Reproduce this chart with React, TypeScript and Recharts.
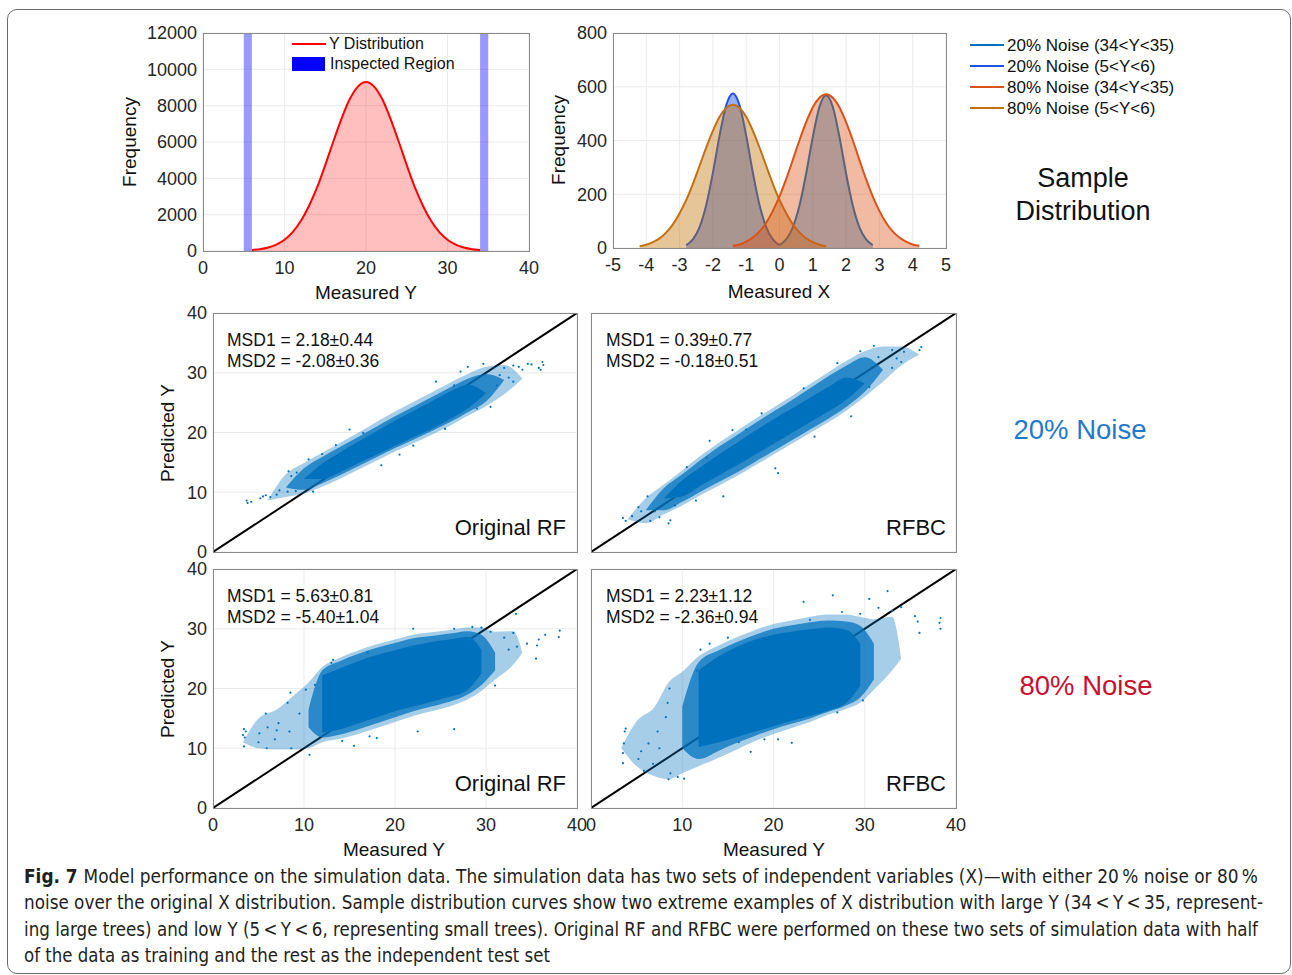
import React from 'react';
import {
  ComposedChart,
  Area,
  Line,
  Scatter,
  XAxis,
  YAxis,
  CartesianGrid,
  ReferenceArea,
} from 'recharts';

const FONT = '"Liberation Sans", Arial, Helvetica, sans-serif';
const INK = '#262626';
const BLUE = '#0072BD';

// --- top left: distribution of Y ---
const yDistX = [6, 7, 8, 9, 10, 11, 12, 13, 14, 15, 16, 17, 18, 19, 20, 21, 22, 23, 24, 25, 26, 27, 28, 29, 30, 31, 32, 33, 34];
const yDistFreq = [60, 100, 190, 350, 620, 1040, 1650, 2480, 3500, 4730, 6040, 7290, 8350, 9050, 9300, 9050, 8350, 7290, 6040, 4730, 3500, 2480, 1650, 1040, 620, 350, 190, 100, 60];
const inspected = [
  [5, 6],
  [34, 35],
];

// --- top right: sample X distributions ---
const xGrid = [-4.2, -4.0, -3.8, -3.6, -3.4, -3.2, -3.0, -2.8, -2.6, -2.4, -2.2, -2.0, -1.8, -1.6, -1.4, -1.2, -1.0, -0.8, -0.6, -0.4, -0.2, 0.0, 0.2, 0.4, 0.6, 0.8, 1.0, 1.2, 1.4, 1.6, 1.8, 2.0, 2.2, 2.4, 2.6, 2.8, 3.0, 3.2, 3.4, 3.6, 3.8, 4.0, 4.2];
const n = null;
const noise20High = [n, n, n, n, n, n, n, n, n, n, n, n, n, n, n, n, n, n, n, n, n, 11, 32, 77, 158, 277, 413, 525, 568, 525, 413, 277, 158, 77, 32, 11, n, n, n, n, n, n, n];
const noise20Low = [n, n, n, n, n, n, n, 11, 32, 78, 160, 280, 418, 531, 575, 531, 418, 280, 160, 78, 32, 11, n, n, n, n, n, n, n, n, n, n, n, n, n, n, n, n, n, n, n, n, n];
const noise80High = [n, n, n, n, n, n, n, n, n, n, n, n, n, n, 8, 13, 24, 39, 62, 94, 138, 192, 256, 328, 401, 468, 524, 559, 572, 559, 524, 468, 401, 328, 256, 192, 138, 94, 62, 39, 24, 13, 8];
const noise80Low = [7, 12, 22, 36, 58, 88, 129, 179, 239, 306, 374, 436, 488, 521, 533, 521, 488, 436, 374, 306, 239, 179, 129, 88, 58, 36, 22, 12, 7, n, n, n, n, n, n, n, n, n, n, n, n, n, n];

const rf20X = [6, 8, 10, 12, 14, 16, 18, 20, 22, 24, 26, 28, 30, 32, 34];
const rf20HaloLo = [8.6, 9.2, 9.8, 10.9, 12.3, 13.8, 15.3, 16.8, 18.2, 19.6, 21.1, 22.8, 24.4, 26.4, 29.0];
const rf20HaloHi = [8.6, 13.0, 14.9, 16.6, 18.3, 20.0, 21.8, 23.5, 25.1, 26.7, 28.3, 29.8, 31.0, 31.3, 29.0];
const rf20BodyLo = [n, 10.8, 10.4, 11.5, 12.9, 14.4, 15.9, 17.4, 18.8, 20.2, 21.7, 23.4, 25.2, 28.8, n];
const rf20BodyHi = [n, 10.8, 14.0, 15.9, 17.6, 19.3, 21.0, 22.7, 24.3, 25.9, 27.5, 29.0, 29.8, 28.8, n];
const rf20CoreLo = [n, n, 12.2, 12.2, 13.4, 14.9, 16.3, 17.8, 19.2, 20.6, 22.2, 24.0, 26.6, n, n];
const rf20CoreHi = [n, n, 12.2, 14.8, 16.7, 18.5, 20.2, 22.0, 23.6, 25.2, 26.8, 28.0, 26.6, n, n];
const rf20Pts = [
  [3.7, 8.6], [3.8, 8.2], [4.2, 8.4], [5.2, 9.0], [5.5, 9.3], [5.8, 9.5], [6.3, 9.2], [7, 9.6], [7.3, 10.3],
  [8.2, 10.1], [8.3, 13.5], [8.6, 12.7], [9.1, 10.2], [9.2, 13.3], [31.5, 29.6], [32, 30.8], [33, 31.2],
  [33.6, 31], [34, 30.5], [34.6, 31.5], [35, 31.4], [36, 30.5], [36.2, 31.8], [36.3, 31.3], [33, 28.5],
  [31.2, 27.9], [29.7, 31.5], [28, 31], [26.5, 27.9], [24.5, 28.5], [15, 20.5], [12, 16.4], [10.5, 15.5],
  [18.5, 14.5], [22, 17.8], [32.5, 29.2], [35.8, 30.8], [13.5, 17.9], [16.5, 19.9], [20.5, 16.3],
  [25.5, 20.6], [29, 24.0], [11, 10.1], [27.2, 30.2], [30.5, 24.3],
];

const bc20X = [4, 6, 8, 10, 12, 14, 16, 18, 20, 22, 24, 26, 28, 30, 32, 34, 36];
const bc20HaloLo = [5.5, 4.8, 6.3, 7.8, 9.5, 11.1, 12.7, 14.5, 16.3, 18.1, 19.9, 21.7, 23.7, 26.0, 28.5, 31.2, 33];
const bc20HaloHi = [5.5, 9.0, 11.3, 13.7, 16.1, 18.3, 20.3, 22.3, 24.2, 26.1, 28.1, 30.1, 32.0, 33.6, 34.4, 34.4, 33];
const bc20BodyLo = [n, 7.0, 7.0, 8.4, 10.1, 11.7, 13.3, 15.1, 16.9, 18.7, 20.5, 22.3, 24.3, 26.8, 30.5, n, n];
const bc20BodyHi = [n, 7.0, 10.7, 13.0, 15.4, 17.6, 19.6, 21.6, 23.5, 25.4, 27.4, 29.4, 31.2, 32.6, 30.5, n, n];
const bc20CoreLo = [n, n, 9.0, 9.3, 11.1, 12.8, 14.5, 16.3, 18.1, 19.9, 21.7, 23.5, 25.5, 28.2, n, n, n];
const bc20CoreHi = [n, n, 9.0, 12.0, 14.2, 16.3, 18.3, 20.3, 22.2, 24.0, 25.8, 27.6, 29.2, 28.2, n, n, n];
const bc20Pts = [
  [3.5, 5.7], [3.8, 5.2], [4.5, 6.0], [5.2, 7.5], [5.5, 6.8], [6.5, 5.2], [7, 6.8], [7.5, 5.8], [8.5, 4.8],
  [8.7, 5.3], [9.2, 7.8], [10.5, 14.2], [12.7, 15.8], [13, 18.6], [14.5, 9.3], [17, 20.5], [20.2, 14.0],
  [20.5, 13.2], [23.3, 27.4], [29.5, 33.6], [31, 34.5], [31.5, 32.6], [33, 33.8], [33.5, 32.4], [34, 31.8],
  [34.3, 33.5], [36, 33.8], [36.2, 34.3], [33, 30.8], [30.5, 27.6], [6.2, 9.3], [11.5, 8.6], [15.5, 20.4],
  [18.7, 23.2], [24.5, 19.3], [27, 31.6], [28.5, 22.7],
];

const rf80X = [3.3, 5, 7, 9, 10.5, 12, 14, 16, 18, 20, 22, 24, 26, 28, 29.5, 31, 33, 34];
const rf80HaloLo = [11, 10.0, 9.8, 9.8, 10.0, 11.0, 11.6, 12.4, 13.4, 14.4, 15.4, 16.2, 17.0, 18.2, 19.6, 21.5, 24.0, 26.0];
const rf80HaloHi = [11, 15.0, 16.5, 19.0, 21.0, 23.6, 25.2, 26.4, 27.4, 28.2, 29.0, 29.4, 29.8, 30.2, 30.2, 29.5, 29.6, 26.0];
const rf80BodyLo = [n, n, n, n, 13.5, 11.8, 12.3, 13.2, 14.2, 15.2, 16.2, 17.0, 17.8, 19.0, 20.6, 23.0, n, n];
const rf80BodyHi = [n, n, n, n, 16.5, 23.0, 24.6, 25.8, 26.8, 27.6, 28.4, 28.8, 29.2, 29.6, 29.0, 26.0, n, n];
const rf80CoreLo = [n, n, n, n, n, 12.6, 13.2, 14.2, 15.2, 16.2, 17.0, 17.8, 18.6, 19.8, 22.5, n, n, n];
const rf80CoreHi = [n, n, n, n, n, 22.2, 23.4, 24.6, 25.6, 26.4, 27.2, 27.8, 28.2, 28.6, 26.5, n, n, n];
const rf80Pts = [
  [3.3, 12.2], [3.4, 13.2], [3.5, 11.8], [3.6, 12.8], [3.4, 10.3], [5, 11], [5.1, 12.5], [5.8, 15.8],
  [5.9, 10.0], [6, 13.5], [6.8, 11.5], [7, 13], [7.2, 14.2], [8.2, 17.6], [8.5, 19.3], [8.6, 10], [8.4, 12.8],
  [9.5, 15.8], [10.2, 19.8], [10.6, 8.9], [11.2, 20.6], [13, 24.3], [13.2, 24.8], [17, 26.0], [18, 11.7],
  [22, 30.0], [26.5, 30.0], [28.5, 30.3], [29.5, 30.2], [30.5, 29.5], [31, 20.5], [32, 28.5], [32.5, 26.5],
  [33, 29.3], [33.3, 32.5], [33.4, 27], [34.5, 27.5], [35.5, 25.0], [35.6, 27.2], [35.8, 28.2], [38, 28.6],
  [38.1, 29.7], [36.5, 29.0], [26.5, 13.2], [22.5, 12.8], [17.2, 12.0], [15.5, 10.4], [14.2, 11.2],
];

const bc80X = [3.3, 5, 7, 8.5, 10, 11.8, 14, 16, 18, 20, 22, 24, 26, 28, 29.5, 31, 33, 34];
const bc80HaloLo = [10, 7.0, 5.3, 4.8, 5.8, 7.0, 8.4, 9.8, 11.2, 12.4, 13.4, 14.4, 15.6, 16.6, 17.6, 19.8, 23.0, 25.0];
const bc80HaloHi = [10, 14.5, 17.0, 21.0, 22.8, 25.4, 27.2, 28.6, 29.8, 30.8, 31.4, 32.0, 32.4, 32.4, 32.0, 31.6, 32.0, 25.0];
const bc80BodyLo = [n, n, n, n, 10.0, 8.2, 9.6, 10.9, 12.1, 13.2, 14.1, 15.0, 16.1, 17.2, 18.5, 21.5, n, n];
const bc80BodyHi = [n, n, n, n, 17.0, 24.4, 26.4, 27.8, 29.0, 30.0, 30.6, 31.1, 31.4, 31.2, 30.5, 27.5, n, n];
const bc80CoreLo = [n, n, n, n, n, 10.2, 11.0, 11.9, 12.8, 13.7, 14.6, 15.4, 16.3, 17.6, 20.5, n, n, n];
const bc80CoreHi = [n, n, n, n, n, 23.0, 25.4, 27.0, 28.2, 29.0, 29.5, 29.9, 30.2, 29.8, 27.5, n, n, n];
const bc80Pts = [
  [3.5, 7.5], [3.5, 9.2], [3.6, 10.8], [3.7, 12.8], [3.8, 13.3], [5.2, 8.2], [5.5, 9.5], [5.8, 6.2],
  [6.3, 10.8], [6.8, 7.4], [7.3, 12.8], [7.5, 10.0], [8.2, 15.2], [8.4, 17.6], [8.5, 4.8], [8.7, 5.8],
  [8.6, 20.0], [9.5, 5.2], [10.2, 4.9], [11.6, 23.0], [12, 26.5], [13, 27.5], [13.2, 22.5], [15, 28.5],
  [16.2, 11.0], [17.5, 9.4], [19, 11.5], [20.5, 11.5], [22, 10.9], [23.3, 34.5], [24, 31.5], [26.5, 35.6],
  [27.5, 32.8], [29.5, 32.5], [30.5, 35.0], [31.5, 33.5], [32.5, 36.3], [33, 33], [34, 33.6], [35.5, 32.1],
  [35.8, 31.2], [36, 29.3], [38.2, 31.0], [38.3, 31.8], [38.3, 30.0], [29.8, 18.0], [27, 16.0],
];

const identity = [
  { x: 0, y: 0 },
  { x: 40, y: 40 },
];

const captionLines = [
  'Model performance on the simulation data. The simulation data has two sets of independent variables (X)\u2014with either 20\u2009% noise or 80\u2009%',
  'noise over the original X distribution. Sample distribution curves show two extreme examples of X distribution with large Y (34\u2009<\u2009Y\u2009<\u200935, represent-',
  'ing large trees) and low Y (5\u2009<\u2009Y\u2009<\u20096, representing small trees). Original RF and RFBC were performed on these two sets of simulation data with half',
  'of the data as training and the rest as the independent test set',
];
const captionWidths = [1234, 1239, 1234, 526];
const captionY = [23, 49, 76, 102];

const tickStyle = { fontSize: 18, fill: INK, fontFamily: FONT };

type Rect = { l: number; t: number; r: number; b: number };

type PanelProps = {
  rect: Rect;
  xDomain: [number, number];
  yDomain: [number, number];
  xTicks: number[];
  yTicks: number[];
  showX: boolean;
  showY: boolean;
  data: any[];
  under?: React.ReactNode;
  children: React.ReactNode;
};

// two stacked charts with the same scales: grid (+ anything "under") first, series on top
function Panel({ rect, xDomain, yDomain, xTicks, yTicks, showX, showY, data, under, children }: PanelProps) {
  const L = 70;
  const B = 40;
  const PT = 20;
  const PR = 24;
  const w = rect.r - rect.l;
  const h = rect.b - rect.t;
  const box = { position: 'absolute' as const, left: rect.l - L, top: rect.t - PT };

  const axes = (labels: boolean) => [
    <XAxis
      key="x"
      type="number"
      dataKey="x"
      domain={xDomain}
      ticks={xTicks}
      interval={0}
      height={B}
      tickSize={0}
      tickMargin={10}
      axisLine={false}
      tick={labels && showX ? tickStyle : false}
      allowDataOverflow
    />,
    <YAxis
      key="y"
      type="number"
      domain={yDomain}
      ticks={yTicks}
      interval={0}
      width={L}
      tickSize={0}
      tickMargin={6}
      axisLine={false}
      tick={labels && showY ? tickStyle : false}
      allowDataOverflow
    />,
  ];

  return (
    <>
      <div style={box}>
        <ComposedChart
          width={w + L + PR}
          height={h + PT + B}
          data={data}
          margin={{ top: PT, right: PR, bottom: 0, left: 0 }}
        >
          <CartesianGrid stroke="#ebebeb" />
          {axes(true)}
          {under}
        </ComposedChart>
      </div>
      <div style={box}>
        <ComposedChart
          width={w + L + PR}
          height={h + PT + B}
          data={data}
          margin={{ top: PT, right: PR, bottom: 0, left: 0 }}
        >
          {axes(false)}
          {children}
        </ComposedChart>
      </div>
      <div
        style={{
          position: 'absolute',
          left: rect.l,
          top: rect.t,
          width: w + 1,
          height: h + 1,
          border: '1px solid #8a8a8a',
          boxSizing: 'border-box',
          pointerEvents: 'none',
        }}
      />
    </>
  );
}

function T({
  x,
  y,
  size,
  children,
  anchor = 'start',
  color = '#111',
  rotate = 0,
}: {
  x: number;
  y: number;
  size: number;
  children: React.ReactNode;
  anchor?: 'start' | 'middle' | 'end';
  color?: string;
  rotate?: number;
}) {
  const tx = anchor === 'start' ? '0' : anchor === 'middle' ? '-50%' : '-100%';
  return (
    <div
      style={{
        position: 'absolute',
        left: x,
        top: y,
        transform: `translate(${tx}, -50%)${rotate ? ` rotate(${rotate}deg)` : ''}`,
        fontFamily: FONT,
        fontSize: size,
        color,
        whiteSpace: 'nowrap',
        lineHeight: 1,
      }}
    >
      {children}
    </div>
  );
}

const dot = (props: any) => <circle cx={props.cx} cy={props.cy} r={1.1} fill={BLUE} />;

type Band = (number | null)[];

function cloud(xs: number[], hLo: Band, hHi: Band, bLo: Band, bHi: Band, cLo: Band, cHi: Band) {
  const pair = (lo: Band, hi: Band, i: number) => (lo[i] == null ? null : [lo[i], hi[i]]);
  return xs.map((x, i) => ({
    x,
    halo: pair(hLo, hHi, i),
    body: pair(bLo, bHi, i),
    core: pair(cLo, cHi, i),
  }));
}

const diagonal = (
  <Line
    data={identity}
    dataKey="y"
    stroke="#000"
    strokeWidth={2}
    dot={false}
    isAnimationActive={false}
  />
);

function cloudSeries(pts: number[][]) {
  return [
    <Area key="halo" type="monotone" dataKey="halo" stroke="none" fill={BLUE} fillOpacity={0.35} isAnimationActive={false} />,
    <Area key="body" type="monotone" dataKey="body" stroke="none" fill={BLUE} fillOpacity={0.75} isAnimationActive={false} />,
    <Area key="core" type="monotone" dataKey="core" stroke="none" fill={BLUE} fillOpacity={1} isAnimationActive={false} />,
    <Scatter
      key="pts"
      data={pts.map(([x, y]) => ({ x, y }))}
      dataKey="y"
      shape={dot}
      isAnimationActive={false}
    />,
  ];
}

export default function App() {
  const yDistData = yDistX.map((x, i) => ({ x, freq: yDistFreq[i] }));
  const xDistData = xGrid.map((x, i) => ({
    x,
    n20hi: noise20High[i],
    n20lo: noise20Low[i],
    n80hi: noise80High[i],
    n80lo: noise80Low[i],
  }));
  const ticks40 = [0, 10, 20, 30, 40];

  const rectA = { l: 213, t: 313, r: 577, b: 552 };
  const rectB = { l: 591, t: 313, r: 956, b: 552 };
  const rectC = { l: 213, t: 569, r: 577, b: 808 };
  const rectD = { l: 591, t: 569, r: 956, b: 808 };

  return (
    <div
      style={{
        position: 'absolute',
        left: 0,
        top: 0,
        width: 1292,
        height: 975,
        background: '#fff',
        overflow: 'hidden',
        fontFamily: FONT,
      }}
    >
      <div
        style={{
          position: 'absolute',
          left: 7,
          top: 9,
          width: 1284,
          height: 965,
          border: '1.5px solid #6b6b6b',
          borderRadius: 10,
          boxSizing: 'border-box',
        }}
      />

      {/* Y distribution */}
      <Panel
        rect={{ l: 203, t: 33, r: 529, b: 251 }}
        xDomain={[0, 40]}
        yDomain={[0, 12000]}
        xTicks={ticks40}
        yTicks={[0, 2000, 4000, 6000, 8000, 10000, 12000]}
        showX
        showY
        data={yDistData}
      >
        {inspected.map(([a, b]) => (
          <ReferenceArea key={a} x1={a} x2={b} y1={0} y2={12000} fill="#0000ff" fillOpacity={0.4} stroke="none" />
        ))}
        <Area
          type="monotone"
          dataKey="freq"
          stroke="#ff0000"
          strokeWidth={2}
          fill="#ff0000"
          fillOpacity={0.25}
          isAnimationActive={false}
        />
      </Panel>
      <T x={129} y={142} size={19} anchor="middle" rotate={-90}>Frequency</T>
      <T x={366} y={292} size={19} anchor="middle">Measured Y</T>
      <div style={{ position: 'absolute', left: 292, top: 43, width: 34, height: 2, background: '#ff0000' }} />
      <T x={329} y={44} size={16}>Y Distribution</T>
      <div style={{ position: 'absolute', left: 292, top: 57, width: 33, height: 14, background: '#0000ff' }} />
      <T x={330} y={64} size={16}>Inspected Region</T>

      {/* X sample distributions */}
      <Panel
        rect={{ l: 613, t: 33, r: 946, b: 248 }}
        xDomain={[-5, 5]}
        yDomain={[0, 800]}
        xTicks={[-5, -4, -3, -2, -1, 0, 1, 2, 3, 4, 5]}
        yTicks={[0, 200, 400, 600, 800]}
        showX
        showY
        data={xDistData}
      >
        <Area type="monotone" dataKey="n20lo" stroke="#2050e0" strokeWidth={2} fill="#2050e0" fillOpacity={0.45} isAnimationActive={false} />
        <Area type="monotone" dataKey="n20hi" stroke={BLUE} strokeWidth={2} fill={BLUE} fillOpacity={0.4} isAnimationActive={false} />
        <Area type="monotone" dataKey="n80lo" stroke="#C27012" strokeWidth={2} fill="#C07000" fillOpacity={0.4} isAnimationActive={false} />
        <Area type="monotone" dataKey="n80hi" stroke="#D95319" strokeWidth={2} fill="#D95319" fillOpacity={0.4} isAnimationActive={false} />
      </Panel>
      <T x={558} y={140} size={19} anchor="middle" rotate={-90}>Frequency</T>
      <T x={779} y={291} size={19} anchor="middle">Measured X</T>

      {[
        ['#0072BD', '20% Noise (34<Y<35)'],
        ['#1f55dc', '20% Noise (5<Y<6)'],
        ['#D95319', '80% Noise (34<Y<35)'],
        ['#C27012', '80% Noise (5<Y<6)'],
      ].map(([c, label], i) => (
        <React.Fragment key={label}>
          <div style={{ position: 'absolute', left: 970, top: 44 + i * 21, width: 34, height: 2, background: c }} />
          <T x={1007} y={45 + i * 21} size={17}>{label}</T>
        </React.Fragment>
      ))}
      <T x={1083} y={178} size={27} anchor="middle">Sample</T>
      <T x={1083} y={211} size={27} anchor="middle">Distribution</T>

      {/* scatter: 20% noise */}
      <Panel rect={rectA} xDomain={[0, 40]} yDomain={[0, 40]} xTicks={ticks40} yTicks={ticks40} showX={false} showY under={diagonal}
        data={cloud(rf20X, rf20HaloLo, rf20HaloHi, rf20BodyLo, rf20BodyHi, rf20CoreLo, rf20CoreHi)}>
        {cloudSeries(rf20Pts)}
      </Panel>
      <Panel rect={rectB} xDomain={[0, 40]} yDomain={[0, 40]} xTicks={ticks40} yTicks={ticks40} showX={false} showY={false} under={diagonal}
        data={cloud(bc20X, bc20HaloLo, bc20HaloHi, bc20BodyLo, bc20BodyHi, bc20CoreLo, bc20CoreHi)}>
        {cloudSeries(bc20Pts)}
      </Panel>

      {/* scatter: 80% noise */}
      <Panel rect={rectC} xDomain={[0, 40]} yDomain={[0, 40]} xTicks={ticks40} yTicks={ticks40} showX showY under={diagonal}
        data={cloud(rf80X, rf80HaloLo, rf80HaloHi, rf80BodyLo, rf80BodyHi, rf80CoreLo, rf80CoreHi)}>
        {cloudSeries(rf80Pts)}
      </Panel>
      <Panel rect={rectD} xDomain={[0, 40]} yDomain={[0, 40]} xTicks={ticks40} yTicks={ticks40} showX showY={false} under={diagonal}
        data={cloud(bc80X, bc80HaloLo, bc80HaloHi, bc80BodyLo, bc80BodyHi, bc80CoreLo, bc80CoreHi)}>
        {cloudSeries(bc80Pts)}
      </Panel>

      <T x={227} y={341} size={17.5}>MSD1 = 2.18±0.44</T>
      <T x={227} y={362} size={17.5}>MSD2 = -2.08±0.36</T>
      <T x={566} y={528} size={22} anchor="end">Original RF</T>
      <T x={606} y={341} size={17.5}>MSD1 = 0.39±0.77</T>
      <T x={606} y={362} size={17.5}>MSD2 = -0.18±0.51</T>
      <T x={946} y={528} size={22} anchor="end">RFBC</T>
      <T x={227} y={597} size={17.5}>MSD1 = 5.63±0.81</T>
      <T x={227} y={618} size={17.5}>MSD2 = -5.40±1.04</T>
      <T x={566} y={784} size={22} anchor="end">Original RF</T>
      <T x={606} y={597} size={17.5}>MSD1 = 2.23±1.12</T>
      <T x={606} y={618} size={17.5}>MSD2 = -2.36±0.94</T>
      <T x={946} y={784} size={22} anchor="end">RFBC</T>

      <T x={167} y={433} size={19} anchor="middle" rotate={-90}>Predicted Y</T>
      <T x={167} y={689} size={19} anchor="middle" rotate={-90}>Predicted Y</T>
      <T x={394} y={849} size={19} anchor="middle">Measured Y</T>
      <T x={774} y={849} size={19} anchor="middle">Measured Y</T>

      <T x={1080} y={430} size={27.5} anchor="middle" color="#1f7acc">20% Noise</T>
      <T x={1086} y={686} size={27.5} anchor="middle" color="#c8102e">80% Noise</T>

      {/* caption */}
      <svg width={1292} height={115} style={{ position: 'absolute', left: 0, top: 860 }}>
        {captionLines.map((line, i) => (
          <text
            key={i}
            x={24}
            y={captionY[i]}
            fontSize={19}
            fill="#231f20"
            fontFamily='"Liberation Sans Narrow", "DejaVu Sans Condensed", "Open Sans", Arial, sans-serif'
            textLength={captionWidths[i]}
            lengthAdjust="spacingAndGlyphs"
          >
            {i === 0 && <tspan fontWeight="bold">Fig. 7  </tspan>}
            {line}
          </text>
        ))}
      </svg>
    </div>
  );
}
